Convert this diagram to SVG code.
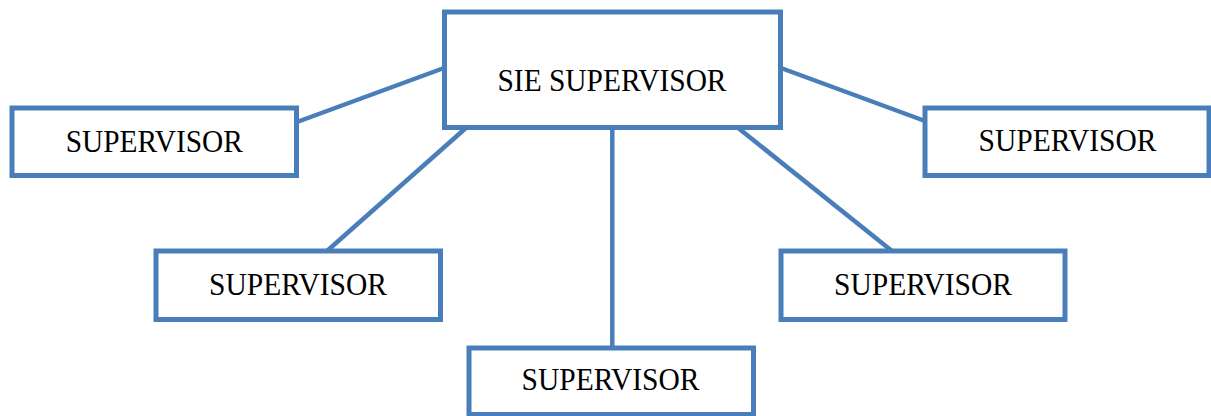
<svg xmlns="http://www.w3.org/2000/svg" width="1211" height="416" viewBox="0 0 1211 416">
<style>
.box{fill:#ffffff;stroke:#4a7ebb;stroke-width:5}
.conn{stroke:#4a7ebb;stroke-width:4.5;fill:none}
.lbl{font-family:"Liberation Serif","DejaVu Serif",serif;font-size:32px;fill:#000000;text-anchor:middle}
</style>
<rect width="1211" height="416" fill="#ffffff"/>
<g id="connectors">
<line class="conn" x1="444" y1="68" x2="297" y2="122"/>
<line class="conn" x1="781" y1="68" x2="925" y2="121"/>
<line class="conn" x1="467" y1="127" x2="327" y2="251"/>
<line class="conn" x1="737" y1="127" x2="892" y2="251"/>
<line class="conn" x1="612.3" y1="127" x2="612.3" y2="348"/>
</g>
<g id="sie-supervisor">
<rect class="box" x="444.5" y="12" width="336" height="115.5"/>
<text class="lbl" x="612" y="90.5" textLength="229" lengthAdjust="spacingAndGlyphs">SIE SUPERVISOR</text>
</g>
<g id="supervisor-left">
<rect class="box" x="12" y="108" width="284.5" height="67.5"/>
<text class="lbl" x="154.3" y="151.5" textLength="177" lengthAdjust="spacingAndGlyphs">SUPERVISOR</text>
</g>
<g id="supervisor-right">
<rect class="box" x="925" y="108" width="284" height="67.5"/>
<text class="lbl" x="1067.5" y="151" textLength="178" lengthAdjust="spacingAndGlyphs">SUPERVISOR</text>
</g>
<g id="supervisor-mid-left">
<rect class="box" x="156" y="251" width="284.5" height="68.5"/>
<text class="lbl" x="298" y="295" textLength="178" lengthAdjust="spacingAndGlyphs">SUPERVISOR</text>
</g>
<g id="supervisor-mid-right">
<rect class="box" x="781" y="251" width="284" height="68.5"/>
<text class="lbl" x="923" y="295" textLength="178" lengthAdjust="spacingAndGlyphs">SUPERVISOR</text>
</g>
<g id="supervisor-bottom">
<rect class="box" x="469" y="348" width="284.5" height="66.5"/>
<text class="lbl" x="610.5" y="390" textLength="178" lengthAdjust="spacingAndGlyphs">SUPERVISOR</text>
</g>
</svg>
